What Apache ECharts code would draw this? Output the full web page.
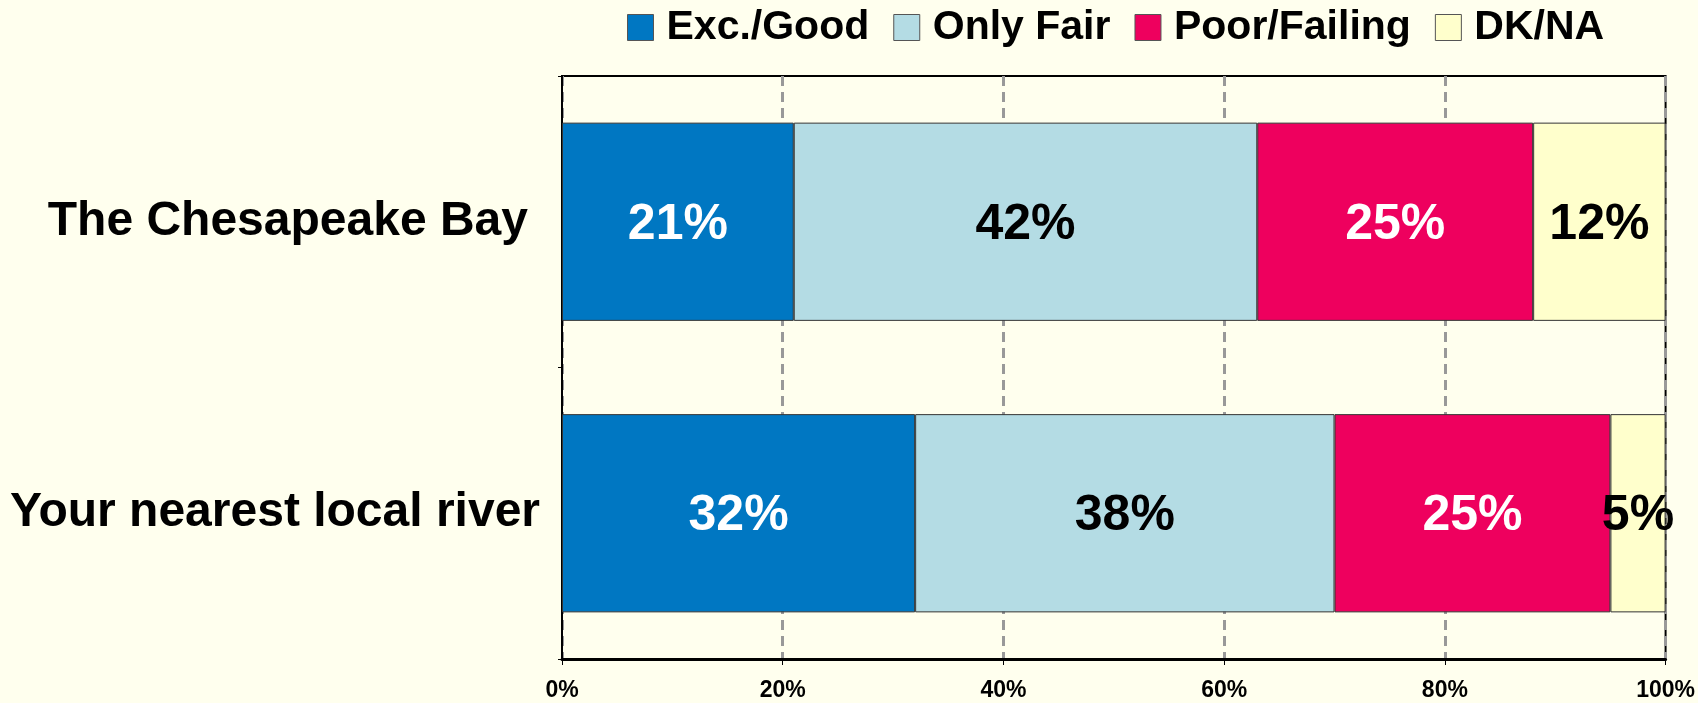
<!DOCTYPE html>
<html lang="en">
<head>
    <meta charset="UTF-8">
    <title>Water quality rating</title>
    <script src="https://cdn.jsdelivr.net/npm/echarts@6/dist/echarts.min.js"></script>
    <style>
        html, body { margin: 0; padding: 0; background: #FFFFEE; }
    </style>
</head>
<body>
    <div id="app" style="width:1698px;height:703px;"></div>
    <script>
        // data
        var places = ['The Chesapeake Bay', 'Your nearest local river'];
        var excGood = [21, 32];
        var onlyFair = [42, 38];
        var poorFailing = [25, 25];
        var dkNa = [12, 5];
        var xTicks = [0, 20, 40, 60, 80, 100];

        var myChart = echarts.init(document.getElementById('app'));

        function mkSeries(name, data, color, labelColor) {
            return {
                name: name,
                type: 'bar',
                stack: 'total',
                data: data,
                barCategoryGap: '32%',
                itemStyle: {
                    color: color,
                    borderColor: '#333',
                    borderWidth: 1
                },
                label: {
                    show: true,
                    position: 'inside',
                    formatter: '{c}%',
                    color: labelColor,
                    fontFamily: 'Liberation Sans, Arial, sans-serif',
                    fontWeight: 'bold',
                    fontSize: 50,
                    offset: [0, 3]
                },
                emphasis: { disabled: true }
            };
        }

        var option = {
            backgroundColor: '#FFFFEE',
            animation: false,
            legend: {
                top: 2,
                left: 622,
                itemWidth: 26,
                itemHeight: 26,
                itemGap: 24,
                icon: 'rect',
                textStyle: {
                    fontFamily: 'Liberation Sans, Arial, sans-serif',
                    fontWeight: 'bold',
                    fontSize: 41,
                    color: '#000',
                    padding: [0, 0, 0, 8]
                },
                itemStyle: { borderColor: '#555', borderWidth: 1 },
                data: ['Exc./Good', 'Only Fair', 'Poor/Failing', 'DK/NA']
            },
            grid: {
                left: 562,
                right: 32,
                top: 76,
                bottom: 44,
                show: true,
                borderColor: '#000',
                borderWidth: 2,
                backgroundColor: 'transparent'
            },
            xAxis: {
                type: 'value',
                min: xTicks[0],
                max: xTicks[xTicks.length - 1],
                interval: 20,
                axisLine: { show: true, lineStyle: { color: '#000', width: 3 } },
                axisTick: { show: true, length: 6, lineStyle: { color: '#000', width: 1 } },
                axisLabel: {
                    formatter: '{value}%',
                    margin: 20,
                    fontFamily: 'Liberation Sans, Arial, sans-serif',
                    fontWeight: 'bold',
                    fontSize: 23,
                    color: '#000'
                },
                splitLine: {
                    show: true,
                    lineStyle: { color: '#999', width: 3, type: [10, 6] }
                }
            },
            yAxis: {
                type: 'category',
                inverse: true,
                data: places,
                axisLine: { show: true, lineStyle: { color: '#000', width: 2 } },
                axisTick: { show: true, length: 4, lineStyle: { color: '#000' } },
                axisLabel: {
                    margin: 22,
                    color: '#000',
                    formatter: function (value, idx) {
                        return idx === 0 ? '{b|' + value + '}' : '{a|' + value + '}';
                    },
                    rich: {
                        a: {
                            fontFamily: 'Liberation Sans, Arial, sans-serif',
                            fontWeight: 'bold',
                            fontSize: 48,
                            color: '#000'
                        },
                        b: {
                            fontFamily: 'Liberation Sans, Arial, sans-serif',
                            fontWeight: 'bold',
                            fontSize: 48,
                            color: '#000',
                            padding: [0, 12, 0, 0]
                        }
                    }
                }
            },
            series: [
                mkSeries('Exc./Good', excGood, '#0077C2', '#FFFFFF'),
                mkSeries('Only Fair', onlyFair, '#B4DCE4', '#000000'),
                mkSeries('Poor/Failing', poorFailing, '#EE005E', '#FFFFFF'),
                mkSeries('DK/NA', dkNa, '#FFFFCC', '#000000')
            ]
        };
        myChart.setOption(option);
    </script>
</body>
</html>
